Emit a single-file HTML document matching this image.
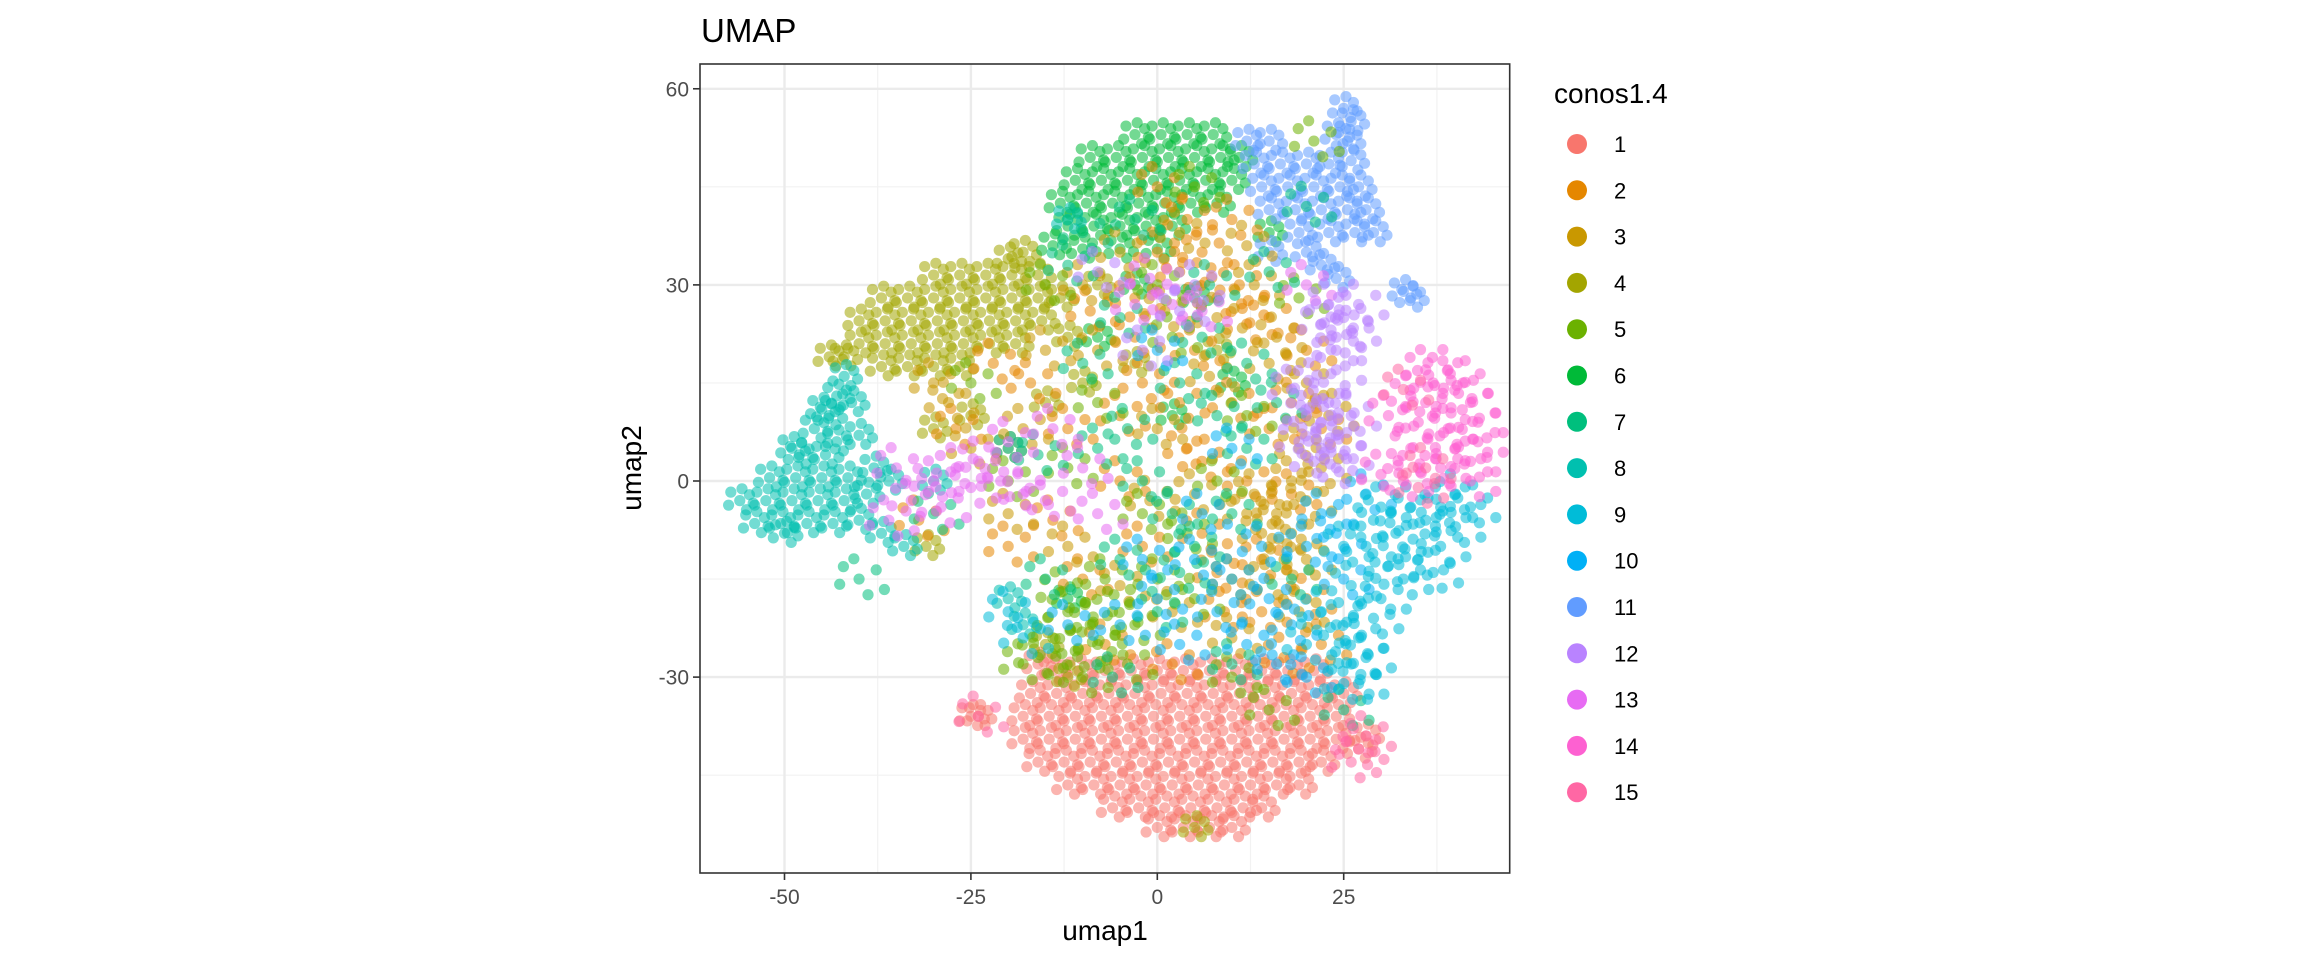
<!DOCTYPE html>
<html><head><meta charset="utf-8"><style>
html,body{margin:0;padding:0;background:#fff;}
svg{display:block;font-family:"Liberation Sans",Arial,sans-serif;}
</style></head><body>
<svg id="chart" width="2304" height="960" viewBox="0 0 2304 960" xmlns="http://www.w3.org/2000/svg">
<rect width="2304" height="960" fill="#fff"/>
<g id="grid"></g>
<g id="points"></g>
<rect x="700" y="64" width="809.7" height="809" fill="none" stroke="#333" stroke-width="1.6"/>
<g id="axes"></g>
<text x="701" y="42" font-size="33" fill="#000">UMAP</text>
<text x="1105" y="940" font-size="28" text-anchor="middle" fill="#000">umap1</text>
<text transform="translate(641,468) rotate(-90)" font-size="28" text-anchor="middle" fill="#000">umap2</text>
<g id="legend">
<text x="1554" y="103" font-size="28" fill="#000">conos1.4</text>
</g>
</svg>
<script>
const clusterNames = ["1","2","3","4","5","6","7","8","9","10","11","12","13","14","15"];
const clusterColors = ["#F8766D","#E58700","#C99800","#A3A500","#6BB100","#00BA38","#00BF7D","#00C0AF","#00BCD8","#00B0F6","#619CFF","#B983FF","#E76BF3","#FD61D1","#FF67A4"];
const xTicks = [-50,-25,0,25];
const yTicks = [60,30,0,-30];
const xTickLabels = ["-50","-25","0","25"];
const yTickLabels = ["60","30","0","-30"];

const cl1 = [[-14,-29],[-10.5,-29],[-7,-29],[-3.5,-29],[0,-29],[3.5,-29],[7,-29],[10.5,-29],[14,-29],[17.5,-29],[21,-29],
[-17,-32.5],[-13.5,-32.5],[-10,-32.5],[-6.5,-32.5],[-3,-32.5],[0.5,-32.5],[4,-32.5],[7.5,-32.5],[11,-32.5],[14.5,-32.5],[18,-32.5],[21.5,-32.5],[25,-32.5],
[-18,-36],[-14.5,-36],[-11,-36],[-7.5,-36],[-4,-36],[-0.5,-36],[3,-36],[6.5,-36],[10,-36],[13.5,-36],[17,-36],[20.5,-36],[24,-36],
[-18,-39.5],[-14.5,-39.5],[-11,-39.5],[-7.5,-39.5],[-4,-39.5],[-0.5,-39.5],[3,-39.5],[6.5,-39.5],[10,-39.5],[13.5,-39.5],[17,-39.5],[20.5,-39.5],[24,-39.5],
[-16,-43],[-12.5,-43],[-9,-43],[-5.5,-43],[-2,-43],[1.5,-43],[5,-43],[8.5,-43],[12,-43],[15.5,-43],[19,-43],[22,-43],
[-12,-46.5],[-8.5,-46.5],[-5,-46.5],[-1.5,-46.5],[2,-46.5],[5.5,-46.5],[9,-46.5],[12.5,-46.5],[16,-46.5],[19,-46.5],
[-6,-50],[-2.5,-50],[1,-50],[4.5,-50],[8,-50],[11.5,-50],[14,-50],
[0,-53],[3.5,-53],[7,-53],[10,-53],[-25,-36],[-24,-36],[28,-39],[27,-41],[-16,-28]];
const cl2 = [[0,35],[3,32],[6,35],[-3,28],[8,28],[12,24],[5,20],[-2,15],[10,12],[15,8],[4,5],[-5,0],[12,0],[18,-2],[6,-8],[-2,-10],[14,-12],[9,-20],[20,-18],[-7,-25],[2,-28],[17,-27],[-5,10],[15,25],[20,20],[18,12],[-12,8],[-17,15],[-20,-10],[0,45],[10,40],[22,-25],
[-9,26],[3,12],[8,-14],[-14,-6],[-3,22],[14,-20],[6,3],[-10,-15],[22,8],[-22,18],[-27,8],[-32,-6],[4,40],[11,30]];
const cl3 = [[16,-5],[18,-8],[20,-3],[14,-8],[17,-12],[12,-5],[22,2],[19,5],[20,15],[15,18],[8,25],[3,38],[-5,35],[-8,20],[0,8],[5,-2],[10,-15],[-12,-10],[-20,-5],[-25,5],[-28,12],[-15,20],[13,30],[23,10],[2,-20],[-5,-16],[19,-20],[12,36],
[15,-15],[18,0],[13,-2],[20,-12],[-1,-3],[7,16],[-10,30],[-18,8],[-30,15],[10,-24],[16,22],[1,26]];
const cl4 = [[-30,31.5],[-26.5,31.5],[-23,31.5],[-19.5,31.5],[-16,31.5],
[-37,28],[-33.5,28],[-30,28],[-26.5,28],[-23,28],[-19.5,28],[-16,28],[-13,28],
[-40,24.5],[-36.5,24.5],[-33,24.5],[-29.5,24.5],[-26,24.5],[-22.5,24.5],[-19,24.5],[-15.5,24.5],
[-40,21],[-36.5,21],[-33,21],[-29.5,21],[-26,21],[-22.5,21],[-19,21],
[-37,17.5],[-33.5,17.5],[-30,17.5],[-26.5,17.5],
[-42,19],[-44,19],[-20,34],[-18,35],[-12,22],[-8,30],[-15,12],[-25,10],[-30,8],[-20,5],[-10,15],[-3,18],[8,20],[-12,-30],[-15,-25],[-31,-10],[5,-53]];
const cl5 = [[-12,-20],[-9,-22],[-14,-24],[-11,-26],[-16,-27],[-8,-25],[-6,-20],[-13,-17],[-18,-28],[-10,-30],[-4,-28],[0,-15],[5,-18],[-2,-5],[8,0],[-8,12],[2,22],[-15,30],[10,-30],[15,-35],[-20,0],[-25,15],[5,45],[19,28],[21,52],
[-7,-15],[-3,-22],[4,-8],[-12,2],[0,30],[12,10]];
const cl6 = [[-3,53],[0.5,53],[4,53],[7.5,53],
[-9,49.5],[-5.5,49.5],[-2,49.5],[1.5,49.5],[5,49.5],[8.5,49.5],[11,49.5],
[-11,46],[-7.5,46],[-4,46],[-0.5,46],[3,46],[6.5,46],[10,46],
[-13,42.5],[-9.5,42.5],[-6,42.5],[-2.5,42.5],[1,42.5],[4.5,42.5],[8,42.5],
[-12,39],[-8.5,39],[-5,39],[-1.5,39],[2,39],[-10,35.5],[-5,35.5],[0,35.5],
[-14,36],[-3,30],[5,28],[-8,22],[10,15],[2,10],[-12,-18],[15,38]];
const cl7 = [[-5,-12],[0,-20],[5,-10],[10,-5],[-2,0],[8,10],[3,15],[12,18],[-5,25],[-10,38],[-12,33],[7,30],[15,32],[-8,5],[-15,-15],[18,-15],[10,-28],[-3,40],[20,42],[-30,-5],[-40,-15],[25,-35],[12,5],[-6,-30],
[2,-5],[-10,18],[6,22],[16,12],[-16,4],[3,-14],[-4,8]];
const cl8 = [[-48,4],[-44.5,4],[-52,0.5],[-48.5,0.5],[-45,0.5],[-41.5,0.5],
[-56,-3],[-52.5,-3],[-49,-3],[-45.5,-3],[-42,-3],[-54,-6.5],[-50.5,-6.5],[-47,-6.5],[-43.5,-6.5],
[-42,16],[-43,13],[-44,10],[-46,8],[-45,11],[-41,12],[-40,7],[-43,6],[-38,2],[-39,-2],[-36,0],[-40,-6],[-37,-8],[-50,-8],[-49,5],
[-20,-18],[-18,-22],[-34,-10],[-30,0],[-20,5],[-12,40]];
const cl9 = [[40,-2],[42,-4],[38,-4],[36,-6],[40,-7],[34,-4],[32,-8],[38,-10],[35,-12],[33,-15],[31,-13],[30,-18],[29,-21],[27,-24],[28,-27],[26,-28],[25,-31],[27,-31],[24,-22],[26,-16],[28,-10],[30,-4],[22,-20],[20,-25],[25,-10],[37,-14],[29,-6],[-18,-24],[-20,-20]];
const cl10 = [[5,-12],[10,-15],[15,-18],[20,-10],[18,-22],[12,-25],[8,-20],[0,-18],[-5,-22],[22,-5],[25,-15],[14,-10],[3,-25],[-2,-12],[20,-30],[24,-8],[28,-2],[-12,-22],[6,-5],[16,-28],[10,5],[0,20]];
const cl11 = [[12,52],[15,52],[13,48.5],[16.5,48.5],[20,48.5],[23,48.5],[14,45],[17.5,45],[21,45],[24.5,45],[27,45],
[15,41.5],[18.5,41.5],[22,41.5],[25.5,41.5],[28,41.5],[19,38],[23,38],[26.5,38],[29,38],
[25,57],[26,55],[25.5,52],[26,49],[24,53],[33,29],[34,28],[22,33],[24,31],[20,35],[15,35]];
const cl12 = [[25,25],[23,27],[27,27],[24,22],[26,23],[22,24],[24,20],[24,17],[21,15],[23,12],[22,9],[24,7],[22,5],[25,4],[24,2],[21,3],[19,6],[20,10],[18,14],[26,10],[-2,20],[5,30],[3,26],[-8,32]];
const cl13 = [[-30,0],[-27,2],[-25,-1],[-33,-3],[-29,-4],[-24,3],[-21,0],[-18,-2],[-35,2],[-36,-6],[-20,6],[-14,8],[-10,2],[-15,-3],[-3,27],[2,27],[6,26],[-1,31],[20,30],[-8,-5]];
const cl14 = [[36,17],[39,17],[41,15],[42,12],[43,9],[43,6],[42,3],[42,0],[38,2],[35,2],[34,5],[35,9],[34,13],[36,12],[39,8],[40,5],[37,15],[33,0],[30,1],[31,10]];
const cl15 = [[27,-41],[28,-39],[26,-43],[36,2],[35,-1],[-24,-36],[33,14]];

const clusterData = [cl1,cl2,cl3,cl4,cl5,cl6,cl7,cl8,cl9,cl10,cl11,cl12,cl13,cl14,cl15];
const drawOrder = [0,3,5,7,10,1,2,4,6,9,12,8,11,13,14];
const denseSet = [0,3,5,7,10];

const NS = "http://www.w3.org/2000/svg";
const X0 = 1157.3, XS = 7.456, Y0 = 481, YS = 6.537;
const PL = 700, PR = 1509.7, PT = 64, PB = 873;
function sx(v){ return X0 + v*XS; }
function sy(v){ return Y0 - v*YS; }
function mk(tag, attrs, parent){
  const e = document.createElementNS(NS, tag);
  for (const k in attrs) e.setAttribute(k, attrs[k]);
  parent.appendChild(e);
  return e;
}

const grid = document.getElementById('grid');
const gbg = mk('rect',{x:PL,y:PT,width:PR-PL,height:PB-PT,fill:'#fff'},grid);


[-37.5,-12.5,12.5,37.5].forEach(v=>{
  const l = mk('line',{x1:sx(v),x2:sx(v),y1:PT,y2:PB,stroke:'#F2F2F2','stroke-width':1.2},grid);
  
  
});
[45,15,-15,-45].forEach(v=>{
  const l = mk('line',{x1:PL,x2:PR,y1:sy(v),y2:sy(v),stroke:'#F2F2F2','stroke-width':1.2},grid);
  
  
});
xTicks.forEach(v=>{
  const l = mk('line',{x1:sx(v),x2:sx(v),y1:PT,y2:PB,stroke:'#EBEBEB','stroke-width':2.4},grid);
  
  
});
yTicks.forEach(v=>{
  const l = mk('line',{x1:PL,x2:PR,y1:sy(v),y2:sy(v),stroke:'#EBEBEB','stroke-width':2.4},grid);
  
  
});

const pts = document.getElementById('points');
const offsD = [[0,0],[1.3,0.9],[-1.2,1.3],[0.9,-1.4],[-1.5,-0.7],[0.3,1.8],[1.8,-0.4]];
const offsS = [[0,0],[2.3,1.4],[-2.1,1.9],[1.2,-2.4],[-2.6,-0.8],[3.4,-1.6],[-0.7,3.1]];
drawOrder.forEach(ci=>{
  const g = mk('g',{fill:clusterColors[ci],'fill-opacity':0.55},pts);
  
  
  const offs = denseSet.includes(ci) ? offsD : offsS;
  clusterData[ci].forEach(p=>{
    offs.forEach(o=>{
      const c = mk('circle',{cx:sx(p[0]+o[0]),cy:sy(p[1]+o[1]),r:5.6},g);
      
      
    });
  });
});

const axes = document.getElementById('axes');
xTicks.forEach((v,i)=>{
  const t = mk('line',{x1:sx(v),x2:sx(v),y1:PB,y2:PB+7,stroke:'#333','stroke-width':1.6},axes);
  
  
  const tx = mk('text',{x:sx(v),y:PB+31,'font-size':21,'text-anchor':'middle',fill:'#4D4D4D'},axes);
  tx.textContent = xTickLabels[i];
  
  
});
yTicks.forEach((v,i)=>{
  const t = mk('line',{x1:PL-7,x2:PL,y1:sy(v),y2:sy(v),stroke:'#333','stroke-width':1.6},axes);
  
  
  const tx = mk('text',{x:PL-11,y:sy(v)+7.5,'font-size':21,'text-anchor':'end',fill:'#4D4D4D'},axes);
  tx.textContent = yTickLabels[i];
  
  
});

const legend = document.getElementById('legend');
clusterNames.forEach((n,i)=>{
  const cy = 144 + i*46.3;
  const g = mk('g',{},legend);
  
  
  const c = mk('circle',{cx:1577,cy:cy,r:10,fill:clusterColors[i]},g);
  
  
  const t = mk('text',{x:1614,y:cy+8,'font-size':22,fill:'#000'},g);
  t.textContent = n;
  
  
});
</script>
</body></html>
